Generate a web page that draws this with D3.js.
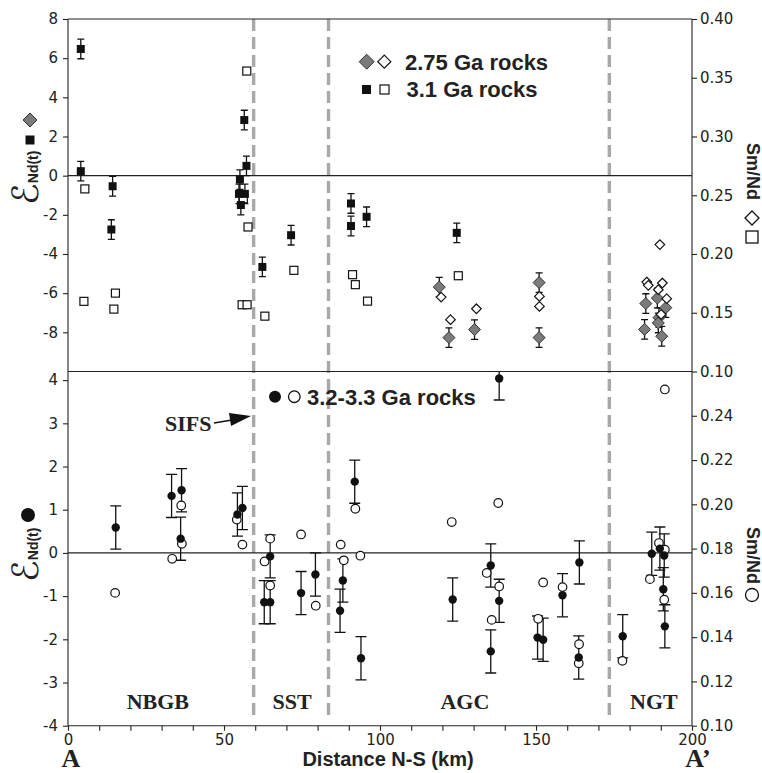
<!DOCTYPE html>
<html>
<head>
<meta charset="utf-8">
<script src="https://cdn.jsdelivr.net/npm/d3@7"></script>
<style>
  html, body { margin: 0; padding: 0; background: #fff; }
  svg { display: block; }
</style>
</head>
<body>
<svg id="chart" width="762" height="773"></svg>
<script>
// ---------- DATA (distance km, value) ----------
// Upper panel: 3.1 Ga rocks
const ga31Eps = [[4.1, 6.47], [4.1, 0.23], [14.3, -0.54], [13.9, -2.75], [55.1, -0.2], [54.8, -0.93], [56.7, -0.93],
  [55.4, -1.5], [56.5, 2.84], [57.2, 0.5], [62.3, -4.66], [71.5, -3.04], [90.7, -1.42], [90.7, -2.57], [95.7, -2.1], [124.6, -2.92]];
const ga31SmNd = [[5.4, 0.2554], [5.1, 0.1597], [15.2, 0.1667], [14.7, 0.1531], [57.3, 0.3557], [56.2, 0.2470], [57.7, 0.223],
  [55.8, 0.1568], [57.4, 0.1568], [63.1, 0.1471], [72.4, 0.1861], [91.2, 0.1824], [92.1, 0.1739], [96.0, 0.1599], [125.1, 0.1815]];
// Upper panel: 2.75 Ga rocks
const ga275Eps = [[119.0, -5.69], [122.1, -8.27], [130.3, -7.86], [151.0, -5.46], [151.0, -8.27], [185.2, -6.53], [184.8, -7.85],
  [188.9, -6.25], [189.4, -7.25], [189.2, -7.52], [191.6, -6.74], [190.3, -8.2]];
const ga275SmNd = [[119.6, 0.1633], [122.6, 0.1441], [130.9, 0.1534], [151.1, 0.1639], [151.1, 0.1554], [189.7, 0.208],
  [185.5, 0.1761], [186.0, 0.1733], [190.5, 0.1753], [189.2, 0.1696], [191.9, 0.162], [190.1, 0.1486]];
// Lower panel: 3.2-3.3 Ga rocks
const ga32Eps = [[15.3, 0.59], [33.2, 1.32], [36.4, 1.45], [36.1, 0.33], [54.3, 0.89], [55.9, 1.04], [62.9, -1.14], [64.8, -0.08],
  [64.8, -1.14], [74.7, -0.93], [79.3, -0.5], [87.2, -1.34], [88.1, -0.64], [91.9, 1.65], [93.9, -2.44], [138.2, 4.04],
  [123.3, -1.08], [135.5, -0.29], [135.5, -2.28], [138.2, -1.11], [150.5, -1.96], [152.3, -2.01], [158.5, -0.98], [163.9, -0.22],
  [163.7, -2.42], [177.8, -1.93], [187.1, -0.02], [189.7, 0.1], [191.1, -0.06], [190.8, -0.84], [191.3, -1.7]];
const ga32SmNd = [[15.1, 0.160], [33.4, 0.1754], [36.3, 0.1995], [36.5, 0.1822], [54.1, 0.1931], [55.9, 0.1818], [63.0, 0.1742],
  [64.8, 0.1845], [64.8, 0.1633], [74.7, 0.1864], [79.4, 0.1542], [87.4, 0.1818], [88.4, 0.1747], [92.1, 0.198], [93.7, 0.1768],
  [123.0, 0.192], [137.9, 0.2006], [134.2, 0.169], [138.2, 0.1629], [135.8, 0.1478], [191.3, 0.2519], [152.3, 0.1647],
  [150.7, 0.1483], [158.5, 0.1626], [163.8, 0.1368], [163.7, 0.1282], [177.7, 0.1293], [186.5, 0.1662], [189.4, 0.1825],
  [191.3, 0.1795], [191.1, 0.1569]];
const epsError = 0.5;
const boundaries = [59.5, 83.5, 173.5];
const regionNames = ["NBGB", "SST", "AGC", "NGT"];
const regionCenters = [28.8, 71.8, 127.2, 187.8];
const xTicks = d3.range(0, 201, 10);
const xLabels = [0, 50, 100, 150, 200];
const topEpsTicks = [-8, -6, -4, -2, 0, 2, 4, 6, 8];
const topSmNdTicks = [0.10, 0.15, 0.20, 0.25, 0.30, 0.35, 0.40];
const botEpsTicks = [-4, -3, -2, -1, 0, 1, 2, 3, 4];
const botSmNdTicks = [0.10, 0.12, 0.14, 0.16, 0.18, 0.20, 0.22, 0.24];

// ---------- LAYOUT ----------
const L = 68, R = 692, T = 19, MID = 371.5, B = 725.7;
const svg = d3.select("#chart");
const x = d3.scaleLinear().domain([0, 200]).range([L, R]);
const yTE = d3.scaleLinear().domain([-10, 8]).range([MID, T]);
const yTR = d3.scaleLinear().domain([0.10, 0.40]).range([MID, T]);
const yBE = d3.scaleLinear().domain([-4, 4.2]).range([B, MID]);
const yBR = d3.scaleLinear().domain([0.10, 0.26]).range([B, MID]);

const tickFont = "'DejaVu Sans', Verdana, sans-serif";
const sansB = "'Liberation Sans', Arial, sans-serif";
const serifB = "'Liberation Serif', 'Times New Roman', serif";
const ink = "#111";

const defs = svg.append("defs");
defs.append("clipPath").attr("id", "clipTop").append("rect").attr("x", L).attr("y", T).attr("width", R - L).attr("height", MID - T);
defs.append("clipPath").attr("id", "clipBot").append("rect").attr("x", L).attr("y", MID).attr("width", R - L).attr("height", B - MID);

// dashed boundaries
svg.append("g").selectAll("line").data(boundaries).join("line")
  .attr("x1", d => x(d)).attr("x2", d => x(d)).attr("y1", T).attr("y2", B - 6)
  .attr("stroke", "#a8a8a8").attr("stroke-width", 3.4).attr("stroke-dasharray", "12,6");

// frame lines
const frame = svg.append("g").attr("stroke", "#222").attr("stroke-width", 1.1);
frame.append("line").attr("x1", L).attr("x2", R).attr("y1", T).attr("y2", T);
frame.append("line").attr("x1", L).attr("x2", R).attr("y1", MID).attr("y2", MID);
frame.append("line").attr("x1", L).attr("x2", R).attr("y1", B).attr("y2", B);
frame.append("line").attr("x1", L).attr("x2", L).attr("y1", T).attr("y2", B);
frame.append("line").attr("x1", R).attr("x2", R).attr("y1", T).attr("y2", B);
frame.append("line").attr("x1", L).attr("x2", R).attr("y1", yTE(0)).attr("y2", yTE(0));
frame.append("line").attr("x1", L).attr("x2", R).attr("y1", yBE(0)).attr("y2", yBE(0));

// axes
function styleAxis(g) {
  g.select(".domain").remove();
  g.selectAll(".tick line").attr("stroke", "#222").attr("stroke-width", 1.1);
  g.selectAll(".tick text").attr("font-family", tickFont).attr("font-size", 15).attr("fill", "#222");
}
svg.append("g").attr("transform", `translate(${L},0)`)
  .call(d3.axisLeft(yTE).tickValues(topEpsTicks).tickSize(5).tickPadding(5).tickFormat(d3.format("d"))).call(styleAxis);
svg.append("g").attr("transform", `translate(${L},0)`)
  .call(d3.axisLeft(yBE).tickValues(botEpsTicks).tickSize(5).tickPadding(5).tickFormat(d3.format("d"))).call(styleAxis);
svg.append("g").attr("transform", `translate(${R},0)`)
  .call(d3.axisRight(yTR).tickValues(topSmNdTicks).tickSize(5).tickPadding(3).tickFormat(d3.format(".2f"))).call(styleAxis);
svg.append("g").attr("transform", `translate(${R},0)`)
  .call(d3.axisRight(yBR).tickValues(botSmNdTicks).tickSize(5).tickPadding(3).tickFormat(d3.format(".2f"))).call(styleAxis);
svg.append("g").attr("transform", `translate(0,${B})`)
  .call(d3.axisBottom(x).tickValues(xTicks).tickSize(5).tickPadding(4)
    .tickFormat(d => xLabels.includes(d) ? d : "")).call(styleAxis);
svg.selectAll(".tick text").text(function() { return this.textContent.replace("\u2212", "-"); });

// ---------- marks ----------
const diamond = (cx, cy, r) => `M${cx},${cy - r}L${cx + r},${cy}L${cx},${cy + r}L${cx - r},${cy}Z`;

function errorBars(g, data, ys, cap) {
  const eb = g.append("g").attr("stroke", ink).attr("stroke-width", 1.3);
  data.forEach(([d, v]) => {
    const cx = x(d);
    eb.append("line").attr("x1", cx).attr("x2", cx).attr("y1", ys(v - epsError)).attr("y2", ys(v + epsError));
    eb.append("line").attr("x1", cx - cap).attr("x2", cx + cap).attr("y1", ys(v - epsError)).attr("y2", ys(v - epsError));
    eb.append("line").attr("x1", cx - cap).attr("x2", cx + cap).attr("y1", ys(v + epsError)).attr("y2", ys(v + epsError));
  });
}

const topG = svg.append("g").attr("clip-path", "url(#clipTop)");
errorBars(topG, ga31Eps, yTE, 3.5);
errorBars(topG, ga275Eps, yTE, 3.5);
topG.append("g").selectAll("rect").data(ga31SmNd).join("rect")
  .attr("x", d => x(d[0]) - 4).attr("y", d => yTR(d[1]) - 4).attr("width", 8).attr("height", 8)
  .attr("fill", "#fff").attr("stroke", ink).attr("stroke-width", 1.2);
topG.append("g").selectAll("rect").data(ga31Eps).join("rect")
  .attr("x", d => x(d[0]) - 4).attr("y", d => yTE(d[1]) - 4).attr("width", 8).attr("height", 8)
  .attr("fill", ink);
topG.append("g").selectAll("path").data(ga275Eps).join("path")
  .attr("d", d => diamond(x(d[0]), yTE(d[1]), 6))
  .attr("fill", "#7b7b7b").attr("stroke", "#333").attr("stroke-width", 1);
topG.append("g").selectAll("path").data(ga275SmNd).join("path")
  .attr("d", d => diamond(x(d[0]), yTR(d[1]), 4.8))
  .attr("fill", "#fff").attr("stroke", ink).attr("stroke-width", 1.2);

const botG = svg.append("g").attr("clip-path", "url(#clipBot)");
errorBars(botG, ga32Eps, yBE, 5.5);
botG.append("g").selectAll("circle").data(ga32SmNd).join("circle")
  .attr("cx", d => x(d[0])).attr("cy", d => yBR(d[1])).attr("r", 4.3)
  .attr("fill", "#fff").attr("stroke", ink).attr("stroke-width", 1.2);
botG.append("g").selectAll("circle").data(ga32Eps).join("circle")
  .attr("cx", d => x(d[0])).attr("cy", d => yBE(d[1])).attr("r", 4.2)
  .attr("fill", ink);

// ---------- legends ----------
const leg = svg.append("g");
leg.append("path").attr("d", diamond(366.7, 61.7, 7.5)).attr("fill", "#7b7b7b").attr("stroke", "#333");
leg.append("path").attr("d", diamond(384.3, 61.7, 6.5)).attr("fill", "#fff").attr("stroke", ink).attr("stroke-width", 1.2);
leg.append("rect").attr("x", 362).attr("y", 85).attr("width", 9).attr("height", 9).attr("fill", ink);
leg.append("rect").attr("x", 380).attr("y", 85).attr("width", 9).attr("height", 9).attr("fill", "#fff").attr("stroke", ink).attr("stroke-width", 1.2);
leg.append("text").attr("x", 405).attr("y", 69.5).text("2.75 Ga rocks");
leg.append("text").attr("x", 406.5).attr("y", 97).text("3.1 Ga rocks");
leg.append("circle").attr("cx", 275).attr("cy", 396.7).attr("r", 6).attr("fill", ink);
leg.append("circle").attr("cx", 294.3).attr("cy", 396.7).attr("r", 5.8).attr("fill", "#fff").attr("stroke", ink).attr("stroke-width", 1.3);
leg.append("text").attr("x", 307).attr("y", 404.5).text("3.2-3.3 Ga rocks");
leg.selectAll("text").attr("font-family", sansB).attr("font-weight", "bold").attr("font-size", 22).attr("fill", "#222");

// region labels
svg.append("g").selectAll("text").data(regionNames).join("text")
  .attr("x", (d, i) => x(regionCenters[i])).attr("y", 709).attr("text-anchor", "middle")
  .attr("font-family", serifB).attr("font-weight", "bold").attr("font-size", 22).attr("fill", "#222").text(d => d);

// SIFS annotation
svg.append("text").attr("x", 165).attr("y", 431).attr("font-family", serifB).attr("font-weight", "bold")
  .attr("font-size", 22).attr("fill", "#222").text("SIFS");
svg.append("line").attr("x1", 214).attr("y1", 423).attr("x2", 232).attr("y2", 420).attr("stroke", ink).attr("stroke-width", 1.5);
svg.append("path").attr("d", "M229,413L251,416L231,426Z").attr("fill", ink);

// x title and A / A'
svg.append("text").attr("x", 388).attr("y", 766).attr("text-anchor", "middle")
  .attr("font-family", sansB).attr("font-weight", "bold").attr("font-size", 20).attr("fill", "#222").text("Distance N-S (km)");
svg.append("text").attr("x", 71).attr("y", 767).attr("text-anchor", "middle")
  .attr("font-family", serifB).attr("font-weight", "bold").attr("font-size", 26).attr("fill", "#222").text("A");
svg.append("text").attr("x", 698).attr("y", 767).attr("text-anchor", "middle")
  .attr("font-family", serifB).attr("font-weight", "bold").attr("font-size", 26).attr("fill", "#222").text("A\u2019");

// left axis titles
function epsTitle(bx, by) {
  const t = svg.append("text").attr("transform", `translate(${bx},${by}) rotate(-90)`).attr("fill", "#222");
  t.append("tspan").attr("font-family", "'DejaVu Sans', sans-serif").attr("font-size", 36).text("\u2130");
  t.append("tspan").attr("font-family", sansB).attr("font-weight", "bold").attr("font-size", 14).attr("dx", 0).text("Nd(t)");
}
epsTitle(38, 205);
svg.append("path").attr("d", diamond(30, 120, 7)).attr("fill", "#7b7b7b").attr("stroke", "#333");
svg.append("rect").attr("x", 25.5).attr("y", 135.5).attr("width", 9).attr("height", 9).attr("fill", ink);
epsTitle(38, 582);
svg.append("circle").attr("cx", 28).attr("cy", 515).attr("r", 7).attr("fill", ink);

// right axis titles
function smTitle(y0) {
  svg.append("text").attr("transform", `translate(747,${y0}) rotate(90)`)
    .attr("font-family", sansB).attr("font-weight", "bold").attr("font-size", 18).attr("fill", "#222").text("Sm/Nd");
}
smTitle(143);
svg.append("path").attr("d", diamond(752, 218, 7)).attr("fill", "#fff").attr("stroke", ink).attr("stroke-width", 1.3);
svg.append("rect").attr("x", 746).attr("y", 231).attr("width", 12).attr("height", 12).attr("fill", "#fff").attr("stroke", ink).attr("stroke-width", 1.3);
smTitle(527);
svg.append("circle").attr("cx", 752).attr("cy", 595).attr("r", 6.5).attr("fill", "#fff").attr("stroke", ink).attr("stroke-width", 1.3);
</script>
</body>
</html>
